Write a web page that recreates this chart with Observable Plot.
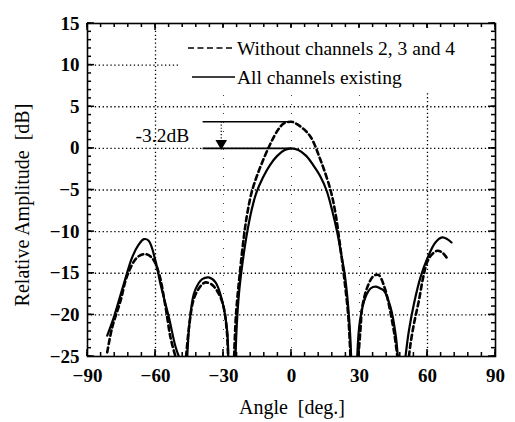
<!DOCTYPE html>
<html><head><meta charset="utf-8">
<script src="https://cdn.jsdelivr.net/npm/d3@7"></script>
<script src="https://cdn.jsdelivr.net/npm/@observablehq/plot@0.6"></script>
<style>
body{margin:0;background:#fff;}
#wrap{position:relative;width:515px;height:422px;font-family:"Liberation Serif","Times New Roman",serif;}
#legend{position:absolute;left:178px;top:28px;width:312px;height:64px;background:#fff;}
</style></head><body><div id="wrap"></div>
<script>
// Series: "All channels existing" (solid) — null breaks between lobes
const solidAngle = [-81.3,-78.4,-74,-70.3,-67.5,-65.1,-63,-60,-57.8,-54.1,-51.2,-49.7, null,
 -46,-44.9,-43.1,-41,-39.4,-36.5,-33.5,-30.6,-28.4,-27.9, null,
 -24.7,-24.1,-23.2,-22.2,-20.8,-19.5,-17.6,-15.6,-12.6,-9.5,-6.3,-3,0,3,6.5,9.8,12.8,15.4,17.9,20.1,21.8,23.4,24.5,25.3,25.9,26.3, null,
 29,30.2,32.6,35,37.1,39,40.8,43.7,45.9,46.9, null,
 50.3,51.8,54,56.9,60.1,63.5,66.5,68.7,70.6];
const solidDb = [-22.5,-20.3,-16.3,-13.1,-11.6,-10.9,-11.1,-13.5,-16.3,-20.3,-23.8,-25, null,
 -25,-20.7,-17.5,-16.2,-15.7,-15.5,-16.1,-18.3,-21.9,-25, null,
 -25,-21,-17.5,-15,-12.2,-10,-7.4,-5.4,-3.5,-2.0,-0.9,-0.2,0,-0.2,-0.9,-2.1,-3.4,-5,-7.4,-10,-12.5,-15,-17.5,-20,-22.5,-25, null,
 -25,-20.7,-17.9,-16.8,-16.6,-16.8,-17.1,-19.1,-22.3,-25, null,
 -25,-21.9,-18.7,-15.5,-13.1,-11.3,-10.7,-10.9,-11.3];
// Series: "Without channels 2, 3 and 4" (dashed)
const dashedAngle = [-81.3,-79.1,-75.4,-72.5,-68.1,-64.4,-61.4,-58.5,-55.6,-53.4,-51.2, null,
 -46.5,-45,-43,-40,-37.9,-35,-32,-30,-28.5,-28, null,
 -25.3,-24.5,-22.8,-21,-19.5,-17.3,-13.7,-9.3,-6,-3.4,0,1.8,5,8.4,12.8,17.2,19.4,20.9,23,25,26, null,
 29.5,30.5,31.2,33.7,36.3,38.4,39.3,41.5,43.5,45.5,46.7, null,
 51.8,52.5,54,56.2,58.1,60.1,62.1,64.3,66.5,68.4];
const dashedDb = [-24.5,-21.5,-18.3,-15.3,-13.1,-12.7,-13.2,-15,-19,-22.7,-25, null,
 -25,-21,-18,-16.5,-16.1,-16.4,-17.5,-19,-22,-25, null,
 -25,-20,-15,-10.6,-7.8,-5,-2.2,0.56,2.2,3.0,3.2,3.0,2.4,1.4,-1.4,-5,-7.8,-10.6,-15,-20,-25, null,
 -25,-21.5,-19.1,-16.5,-15.3,-15.2,-15.5,-17.1,-19.5,-22.5,-25, null,
 -25,-23.5,-21.1,-18.3,-15.5,-13.5,-12.7,-12.3,-12.5,-13.1];

const seriesLabels = ["Without channels 2, 3 and 4", "All channels existing"];
const xLabel = "Angle  [deg.]";
const yLabel = "Relative Amplitude  [dB]";
const xTicks = [-90,-60,-30,0,30,60,90];
const yTicks = [15,10,5,0,-5,-10,-15,-20,-25];
const xGridDense = [-60,60];
const xGridSparse = [-30,0,30];
const yGrid = [10,5,0,-5,-10,-15,-20];
const xMinor = d3.range(-90, 91, 6);
const yMinor = d3.range(-25, 16, 1);

// Annotation
const dropTop = 3.2, dropBottom = 0, dropAngle = -31, dropLabel = "-3.2dB";
const refStart = -39, refEndTop = -1;

const serif = '"Liberation Serif","Times New Roman",serif';
const W = 515, H = 422, mL = 87, mR = 20, mT = 23, mB = 66;
const iw = W - mL - mR, ih = H - mT - mB;

const chart = Plot.plot({
  width: W, height: H,
  marginLeft: mL, marginRight: mR, marginTop: mT, marginBottom: mB,
  style: {fontFamily: serif, background: "#fff", color: "#000", overflow: "visible"},
  x: {domain: [-90, 90]},
  y: {domain: [-25, 15]},
  marks: [
    Plot.ruleY(yGrid, {stroke: "#000", strokeWidth: 1.3, strokeDasharray: "1.3,2.6"}),
    Plot.ruleX(xGridDense, {stroke: "#000", strokeWidth: 1.3, strokeDasharray: "1.3,2.6"}),
    Plot.ruleX(xGridSparse, {stroke: "#444", strokeWidth: 1, strokeDasharray: "1,8"}),
    // -3.2 dB annotation
    Plot.ruleY([dropTop], {x1: refStart, x2: refEndTop, stroke: "#000", strokeWidth: 1.6}),
    Plot.ruleY([dropBottom], {x1: refStart, x2: 0, stroke: "#000", strokeWidth: 1.6}),
    Plot.ruleX([dropAngle], {y1: dropTop, y2: dropBottom + 0.9, stroke: "#000", strokeWidth: 1.2, strokeDasharray: "1.2,2"}),
    Plot.dot([dropAngle], {x: d => d, y: dropBottom + 0.6, symbol: "triangle", rotate: 180, r: 4.3, fill: "#000", stroke: "none"}),
    Plot.text([dropLabel], {x: dropAngle, y: dropBottom, dx: -32, dy: -6, textAnchor: "end", lineAnchor: "bottom", fontSize: 19.5, fill: "#000"}),
    // curves
    Plot.line(dashedDb, {x: dashedAngle, y: dashedDb, stroke: "#000", strokeWidth: 2.6, strokeDasharray: "5,3.5", curve: "catmull-rom", clip: true}),
    Plot.line(solidDb, {x: solidAngle, y: solidDb, stroke: "#000", strokeWidth: 2.2, curve: "catmull-rom", clip: true}),
    // tick labels
    Plot.axisX({ticks: xTicks, anchor: "bottom", tickSize: 0, tickPadding: 12, fontSize: 19, fontWeight: "bold", label: null}),
    Plot.axisY({ticks: yTicks, anchor: "left", tickSize: 0, tickPadding: 8, fontSize: 19, fontWeight: "bold", label: null}),
    Plot.frame({stroke: "#000", strokeWidth: 1.6})
  ]
});
document.getElementById("wrap").appendChild(chart);

const svg = d3.select(chart);
const sx = chart.scale("x"), sy = chart.scale("y");
// inward ticks on all four sides, placed through Plot's scales
const tg = svg.append("g").attr("stroke", "#000").attr("stroke-width", 1.5);
const x0 = mL, x1 = W - mR, y0 = mT, y1 = H - mB;
const drawX = (vals, len) => vals.forEach(v => {
  const px = sx.apply(v);
  tg.append("line").attr("x1", px).attr("x2", px).attr("y1", y1).attr("y2", y1 - len);
  tg.append("line").attr("x1", px).attr("x2", px).attr("y1", y0).attr("y2", y0 + len);
});
const drawY = (vals, len) => vals.forEach(v => {
  const py = sy.apply(v);
  tg.append("line").attr("y1", py).attr("y2", py).attr("x1", x0).attr("x2", x0 + len);
  tg.append("line").attr("y1", py).attr("y2", py).attr("x1", x1).attr("x2", x1 - len);
});
drawX(xMinor, 4); drawY(yMinor, 4);
drawX(xTicks, 7); drawY(yTicks, 7);

// x axis title
svg.append("text")
  .attr("x", mL + iw / 2 + 1).attr("y", 414)
  .attr("text-anchor", "middle")
  .attr("font-size", 20)
  .attr("font-family", serif)
  .style("white-space", "pre")
  .text(xLabel);
// y axis title
svg.append("text")
  .attr("transform", "translate(29,205) rotate(-90)")
  .attr("text-anchor", "middle")
  .attr("font-size", 20)
  .attr("font-family", serif)
  .style("white-space", "pre")
  .text(yLabel);

// legend overlay
const leg = d3.select("#wrap").append("div").attr("id", "legend")
  .append("svg").attr("width", 312).attr("height", 64)
  .style("font-family", serif);
const styles = [{dash: "6,3.5", x1: 10}, {dash: null, x1: 14}];
seriesLabels.forEach((lab, i) => {
  const y = 20 + i * 29;
  leg.append("line").attr("x1", styles[i].x1).attr("x2", 57).attr("y1", y).attr("y2", y)
    .attr("stroke", "#000").attr("stroke-width", 1.6)
    .attr("stroke-dasharray", styles[i].dash);
  leg.append("text").attr("x", 59).attr("y", y + 6.5).attr("font-size", 19.5).text(lab);
});
</script></body></html>
